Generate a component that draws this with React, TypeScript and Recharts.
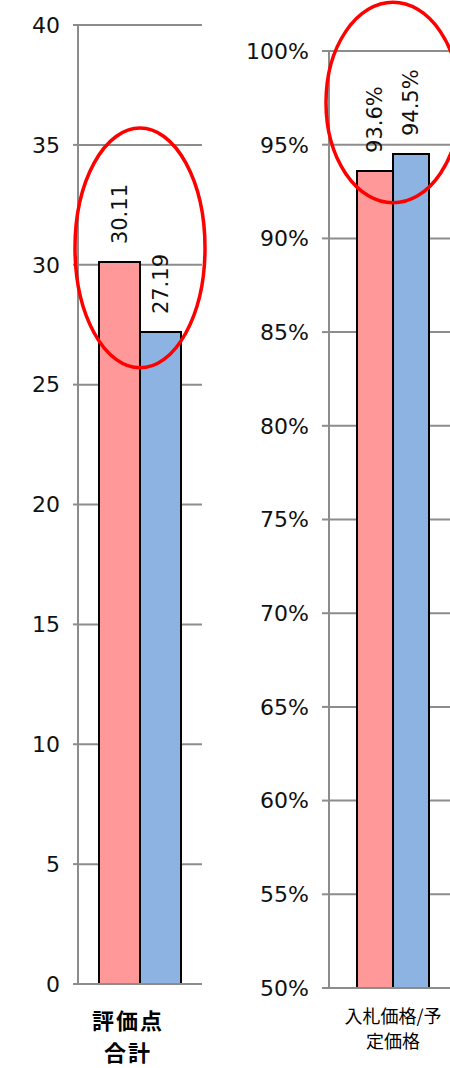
import React from 'react';
import { BarChart, Bar, XAxis, YAxis, CartesianGrid, LabelList, ReferenceArea } from 'recharts';

// 評価点合計
const scoreCategories = ['評価点\n合計'];
const scoreSeriesA = [30.11];
const scoreSeriesB = [27.19];
const scoreTicks = [0, 5, 10, 15, 20, 25, 30, 35, 40];

// 入札価格/予定価格
const priceCategories = ['入札価格/予\n定価格'];
const priceSeriesA = [0.936];
const priceSeriesB = [0.945];
const priceTicks = [0.5, 0.55, 0.6, 0.65, 0.7, 0.75, 0.8, 0.85, 0.9, 0.95, 1];

const PINK = '#FF9999';
const BLUE = '#8DB3E2';
const GRID = '#8c8c8c';
const FONT = '"DejaVu Sans", "Noto Sans CJK JP", sans-serif';
const JP_FONT = '"Noto Sans CJK JP", sans-serif';

const scoreData = scoreCategories.map((name, i) => ({ name, a: scoreSeriesA[i], b: scoreSeriesB[i] }));
const priceData = priceCategories.map((name, i) => ({ name, a: priceSeriesA[i], b: priceSeriesB[i] }));

const pct = (v: number) => `${Math.round(v * 100)}%`;
const pct1 = (v: number) => `${(v * 100).toFixed(1)}%`;

const rotatedLabel = (fmt: (v: number) => string) => (props: any) => {
    const { x, y, width, value } = props;
    return (
        <text
            transform={`translate(${x + width / 2}, ${y - 18}) rotate(-90)`}
            textAnchor="start"
            dominantBaseline="central"
            fontSize={21}
            fontFamily={FONT}
            fill="#111"
        >
            {fmt(value)}
        </text>
    );
};

const categoryTick = (opts: { size: number; weight: string; first: number; step: number; dx: number; spacing: number }) => (props: any) => {
    const { x, y, payload } = props;
    const lines = String(payload.value).split('\n');
    return (
        <g>
            {lines.map((line, i) => (
                <text
                    key={i}
                    x={x + opts.dx}
                    y={y + opts.first + i * opts.step}
                    textAnchor="middle"
                    dominantBaseline="central"
                    fontSize={opts.size}
                    fontWeight={opts.weight}
                    letterSpacing={opts.spacing}
                    fontFamily={JP_FONT}
                    fill="#000"
                >
                    {line}
                </text>
            ))}
        </g>
    );
};

const ellipseShape = (props: any) => {
    const { x, y, width, height } = props;
    return (
        <ellipse
            cx={x + width / 2}
            cy={y + height / 2}
            rx={width / 2 + 3}
            ry={height / 2}
            fill="none"
            stroke="#FF0000"
            strokeWidth={3.5}
        />
    );
};

const tickStyle = { fontSize: 22, fontFamily: FONT, fill: '#111' };

const App = () => {
    return (
        <div style={{ position: 'absolute', top: 0, left: 0, width: 450, height: 1068, overflow: 'hidden', background: '#fff' }}>
            <div style={{ position: 'absolute', top: 0, left: 0 }}>
                <BarChart width={225} height={1068} data={scoreData} margin={{ top: 25, right: 23, bottom: 0, left: 0 }} barGap={0}>
                    <CartesianGrid horizontal vertical={false} stroke={GRID} strokeWidth={2} />
                    <XAxis
                        dataKey="name"
                        height={84}
                        axisLine={{ stroke: GRID, strokeWidth: 2 }}
                        tickLine={false}
                        tickSize={0}
                        tickMargin={0}
                        interval={0}
                        tick={categoryTick({ size: 22, weight: 'bold', first: 35, step: 32, dx: -12, spacing: 2 })}
                    />
                    <YAxis
                        width={78}
                        domain={[0, 40]}
                        ticks={scoreTicks}
                        interval={0}
                        axisLine={{ stroke: GRID, strokeWidth: 2 }}
                        tickLine={{ stroke: GRID, strokeWidth: 2 }}
                        tickSize={5}
                        tickMargin={13}
                        tick={tickStyle}
                    />
                    <Bar dataKey="a" fill={PINK} stroke="#000" strokeWidth={2} barSize={41} isAnimationActive={false}>
                        <LabelList dataKey="a" content={rotatedLabel((v) => v.toFixed(2))} />
                    </Bar>
                    <Bar dataKey="b" fill={BLUE} stroke="#000" strokeWidth={2} barSize={41} isAnimationActive={false}>
                        <LabelList dataKey="b" content={rotatedLabel((v) => v.toFixed(2))} />
                    </Bar>
                    <ReferenceArea
                        x1={scoreCategories[0]}
                        x2={scoreCategories[0]}
                        y1={25.7}
                        y2={35.7}
                        ifOverflow="visible"
                        zIndex={1500}
                        shape={ellipseShape}
                    />
                </BarChart>
            </div>
            <div style={{ position: 'absolute', top: 0, left: 225 }}>
                <BarChart width={232} height={1068} data={priceData} margin={{ top: 51, right: 0, bottom: 0, left: 0 }} barGap={0}>
                    <CartesianGrid horizontal vertical={false} stroke={GRID} strokeWidth={2} />
                    <XAxis
                        dataKey="name"
                        height={80}
                        axisLine={{ stroke: GRID, strokeWidth: 2 }}
                        tickLine={false}
                        tickSize={0}
                        tickMargin={0}
                        interval={0}
                        tick={categoryTick({ size: 18, weight: 'normal', first: 27, step: 25, dx: 0, spacing: 0 })}
                    />
                    <YAxis
                        width={104}
                        domain={[0.5, 1]}
                        ticks={priceTicks}
                        interval={0}
                        tickFormatter={pct}
                        axisLine={{ stroke: GRID, strokeWidth: 2 }}
                        tickLine={{ stroke: GRID, strokeWidth: 2 }}
                        tickSize={7}
                        tickMargin={13}
                        tick={tickStyle}
                    />
                    <Bar dataKey="a" fill={PINK} stroke="#000" strokeWidth={2} barSize={36} isAnimationActive={false}>
                        <LabelList dataKey="a" content={rotatedLabel(pct1)} />
                    </Bar>
                    <Bar dataKey="b" fill={BLUE} stroke="#000" strokeWidth={2} barSize={36} isAnimationActive={false}>
                        <LabelList dataKey="b" content={rotatedLabel(pct1)} />
                    </Bar>
                    <ReferenceArea
                        x1={priceCategories[0]}
                        x2={priceCategories[0]}
                        y1={0.919}
                        y2={1.026}
                        ifOverflow="visible"
                        zIndex={1500}
                        shape={ellipseShape}
                    />
                </BarChart>
            </div>
        </div>
    );
};

export default App;
